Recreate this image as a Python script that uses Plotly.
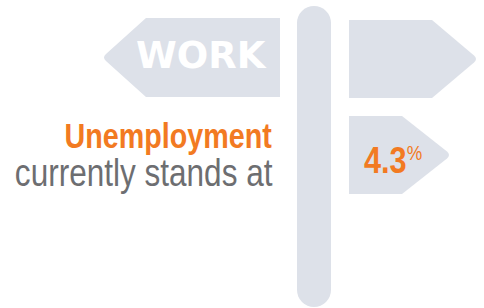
import plotly.graph_objects as go

# Data
sign_label = "WORK"
headline = "Unemployment"
subline = "currently stands at"
rate_value = 4.3
rate_unit = "%"

SIGN = "#dde1e9"
ORANGE = "#f27a22"
GRAY = "#6d6e71"
SANS = "Liberation Sans, Arial, sans-serif"

fig = go.Figure()

shapes = [
    # pole
    dict(type="rect", x0=297, x1=331, y0=23, y1=290, fillcolor=SIGN, line_width=0, layer="below"),
    dict(type="circle", x0=297, x1=331, y0=6, y1=40, fillcolor=SIGN, line_width=0, layer="below"),
    dict(type="circle", x0=297, x1=331, y0=273, y1=307, fillcolor=SIGN, line_width=0, layer="below"),
    # left sign
    dict(type="path", path="M 280 18 L 146 18 L 106 54 Q 102 57.5 106 61 L 146 97 L 280 97 Z",
         fillcolor=SIGN, line_width=0, layer="below"),
    # right upper sign
    dict(type="path", path="M 349 20 L 432 20 L 474 55.5 Q 478 59 474 62.5 L 432 98 L 349 98 Z",
         fillcolor=SIGN, line_width=0, layer="below"),
    # right lower sign
    dict(type="path", path="M 349 116 L 402 116 L 447 151.5 Q 451 155 447 158.5 L 402 194 L 349 194 Z",
         fillcolor=SIGN, line_width=0, layer="below"),
]

annotations = [
    dict(x=201, y=55, text=sign_label, showarrow=False, xanchor="center", yanchor="middle",
         font=dict(family="DejaVu Sans, sans-serif", size=37, color="white", weight="bold")),
    dict(x=274, y=135, text=headline, showarrow=False, xanchor="right", yanchor="middle",
         font=dict(family=SANS, size=35, color=ORANGE, weight="bold")),
    dict(x=275, y=173, text=subline, showarrow=False, xanchor="right", yanchor="middle",
         font=dict(family=SANS, size=38, color=GRAY)),
    dict(x=362, y=160, text=f"{rate_value}<span style='font-size:30px;font-weight:normal'><sup>{rate_unit}</sup></span>",
         showarrow=False, xanchor="left", yanchor="middle",
         font=dict(family=SANS, size=37, color=ORANGE, weight="bold")),
]

fig.update_layout(
    width=484, height=308,
    margin=dict(l=0, r=0, t=0, b=0),
    paper_bgcolor="white", plot_bgcolor="white",
    xaxis=dict(range=[0, 484], visible=False, fixedrange=True),
    yaxis=dict(range=[308, 0], visible=False, fixedrange=True),
    shapes=shapes, annotations=annotations, showlegend=False,
)
fig.add_trace(go.Scatter(x=[0, 484], y=[0, 308], mode="markers", marker=dict(opacity=0), hoverinfo="skip"))

post = """
document.body.style.margin='0';
document.body.style.overflow='hidden';
var gd = document.querySelector('.plotly-graph-div');
function condense(){
  var specs = {'1':['right',0.82], '2':['right',0.83], '3':['left',0.83]};
  document.querySelectorAll('g.annotation').forEach(function(g){
    var s = specs[g.getAttribute('data-index')];
    if(!s) return;
    var t = g.querySelector('text');
    if(!t) return;
    t.style.transformBox = 'fill-box';
    t.style.transformOrigin = s[0] + ' center';
    t.style.transform = 'scaleX(' + s[1] + ')';
  });
}
condense();
if (gd && gd.on) gd.on('plotly_afterplot', condense);
"""

fig.write_html("out.html", config={"displayModeBar": False}, post_script=post)
